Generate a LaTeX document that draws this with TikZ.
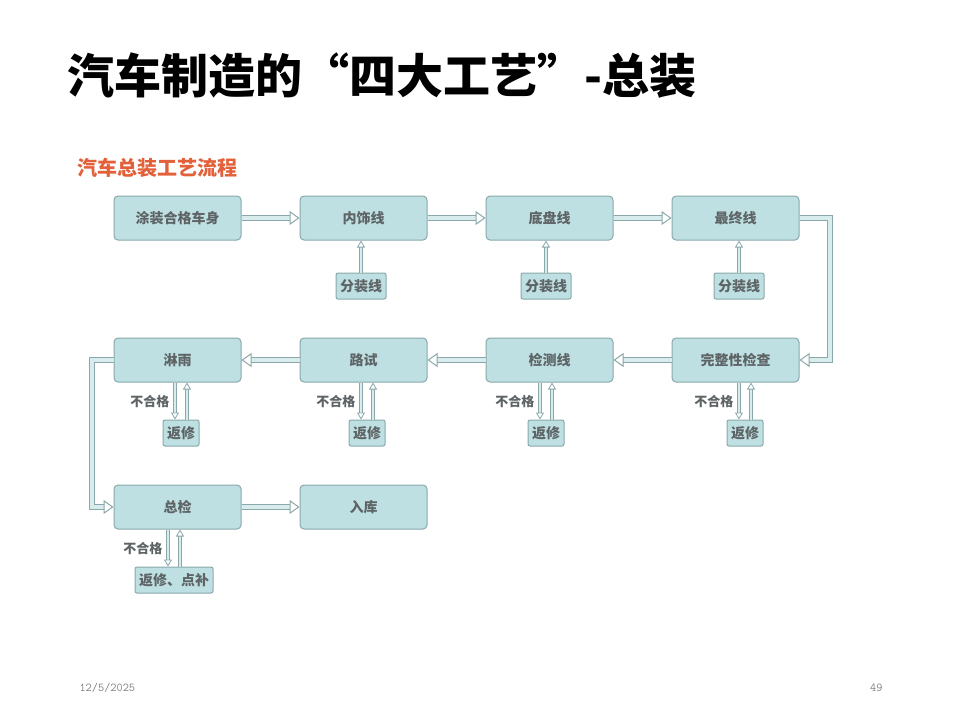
\documentclass[tikz,border=0pt]{standalone}
\usepackage{fontspec}
\setmainfont{Liberation Serif}
\newfontfamily\cjk{Noto Sans CJK SC}
\usetikzlibrary{arrows.meta}
\definecolor{boxfill}{HTML}{BEE0E2}
\definecolor{boxline}{HTML}{8AA8AA}
\definecolor{txt}{HTML}{5E6466}
\definecolor{orng}{HTML}{E2603A}
\tikzset{
  mbox/.style={draw=boxline,fill=boxfill,rounded corners=4pt,line width=1pt,minimum width=127pt,minimum height=44pt,font=\cjk\bfseries\fontsize{14}{14}\selectfont,text=txt},
  sbox/.style={draw=boxline,fill=boxfill,rounded corners=2pt,line width=1pt,minimum height=26pt,inner xsep=4pt,font=\cjk\bfseries\fontsize{14}{14}\selectfont,text=txt},
  harr/.style={draw=boxline,double=boxfill!60!white,double distance=4pt,line width=1pt,-{Triangle[open,length=10pt,width=14pt,line width=1pt]}},
  varr/.style={draw=boxline,double=boxfill!60!white,double distance=2.5pt,line width=0.8pt,-{Triangle[open,length=7pt,width=8pt,line width=0.8pt]}},
  lbl/.style={font=\cjk\bfseries\fontsize{13}{13}\selectfont,text=txt}
}
\begin{document}
\begin{tikzpicture}[x=1pt,y=-1pt]
\useasboundingbox[fill=white] (0,0) rectangle (960,720);
\node[anchor=base west,font=\cjk\bfseries\fontsize{47}{47}\selectfont] (title) at (64,93) {汽车制造的“四大工艺”-总装};
\node[anchor=west,font=\cjk\bfseries\fontsize{20}{20}\selectfont,text=orng] (sub) at (74,168) {汽车总装工艺流程};
% row1
\node[mbox] (a) at (177.5,218) {涂装合格车身};
\node[mbox] (b) at (363.5,218) {内饰线};
\node[mbox] (c) at (549.5,218) {底盘线};
\node[mbox] (d) at (735.5,218) {最终线};
\node[sbox] (b1) at (361,286) {分装线};
\node[sbox] (c1) at (546,286) {分装线};
\node[sbox] (d1) at (739,286) {分装线};
% row2
\node[mbox] (e) at (735.5,360) {完整性检查};
\node[mbox] (f) at (549.5,360) {检测线};
\node[mbox] (g) at (363.5,360) {路试};
\node[mbox] (h) at (177.5,360) {淋雨};
\node[sbox] (e1) at (745,433) {返修};
\node[sbox] (f1) at (546,433) {返修};
\node[sbox] (g1) at (367,433) {返修};
\node[sbox] (h1) at (181,433) {返修};
% row3
\node[mbox] (i) at (177.5,507) {总检};
\node[mbox] (j) at (363.5,507) {入库};
\node[sbox] (i1) at (174,580) {返修、点补};
% arrows
\draw[harr] (a) -- (b);
\draw[harr] (b) -- (c);
\draw[harr] (c) -- (d);
\draw[harr] (e) -- (f);
\draw[harr] (f) -- (g);
\draw[harr] (g) -- (h);
\draw[harr] (i) -- (j);
\draw[harr] (d.east) -- ++(30,0) |- (e.east);
\draw[harr] (h.west) -- ++(-22,0) |- (i.west);
\foreach \s/\t in {b1/b,c1/c,d1/d}{\draw[varr] (\s.north) -- (\s.north |- \t.south);}
\foreach \s/\t in {e/e1,f/f1,g/g1,h/h1,i/i1}{
  \draw[varr] ([xshift=-6pt]\t.north |- \s.south) -- ([xshift=-6pt]\t.north);
  \draw[varr] ([xshift=6pt]\t.north) -- ([xshift=6pt]\t.north |- \s.south);
  \node[lbl,anchor=east] (L\s) at ([xshift=-8pt,yshift=18pt]\t.north) {不合格};
}
\node[anchor=west,font=\ttfamily\fontsize{12}{12}\selectfont,text=gray] (date) at (76,688) {12/5/2025};
\node[anchor=east,font=\ttfamily\fontsize{12}{12}\selectfont,text=gray] (pg) at (886,688) {49};
\end{tikzpicture}
\end{document}
